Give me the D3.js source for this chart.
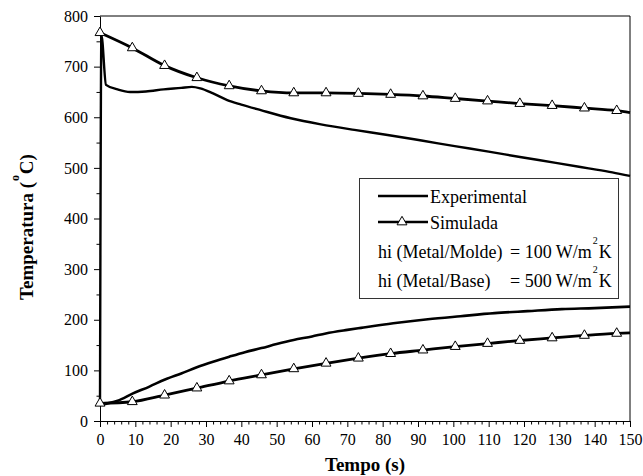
<!DOCTYPE html>
<html>
<head>
<meta charset="utf-8">
<script src="https://cdn.jsdelivr.net/npm/d3@7"></script>
<style>
html,body{margin:0;padding:0;background:#fff;}
svg, svg text{font-family:"Liberation Serif","Times New Roman",Times,serif !important;}
</style>
</head>
<body>
<svg id="chart" width="643" height="476"></svg>
<script>
// ---- data ----
const xTicks = [0,10,20,30,40,50,60,70,80,90,100,110,120,130,140,150];
const yTicks = [0,100,200,300,400,500,600,700,800];

const expTopT = [0, 0.4, 1.7, 5, 8.5, 13, 18, 23, 26, 28.4, 32, 36, 40, 45.5, 54, 62.5, 72, 81.4, 91, 100.4, 110, 119.3, 129, 138.3, 145, 150];
const expTopV = [32, 762, 664, 655, 650, 651, 655, 658, 660, 657, 647, 634, 625, 614, 598, 586, 575, 565, 554, 543, 532, 521, 510, 499, 491, 484];

const expBotT = [0, 5, 9.2, 14, 18.4, 23, 27.4, 32, 36.6, 41, 45.7, 50, 54.8, 60, 63.9, 70, 73.9, 83, 92.8, 102, 111.7, 121, 130.7, 140, 150];
const expBotV = [32, 40, 54, 68, 82, 94, 106, 117, 127, 136, 144, 152, 160, 167, 173, 180, 184, 193, 201, 207, 213, 217, 221, 223, 226];

const simT    = [0, 9.14, 18.28, 27.42, 36.56, 45.7, 54.84, 63.98, 73.12, 82.26, 91.4, 100.54, 109.68, 118.82, 127.96, 137.1, 146.24, 150];
const simTopV = [767, 737, 702, 678, 662, 652, 648, 648, 647, 645, 642, 637, 632, 627, 623, 618, 613, 609];
const simBotV = [35, 38, 51, 65, 79, 91, 103, 114, 124, 133, 140, 147, 153, 159, 164, 169, 173, 174];

const legendLabels = ["Experimental", "Simulada"];
const paramLines = [
  {pre: "hi (Metal/Molde)", val: "= 100 W/m", unit: "K"},
  {pre: "hi (Metal/Base)",  val: "= 500 W/m", unit: "K"}
];

// ---- layout ----
const FONT = "Liberation Serif";
const svg = d3.select("#chart").attr("font-family", FONT);
const L = 100, R = 630, T = 16, B = 421;
const x = d3.scaleLinear().domain([0,150]).range([L,R]);
const y = d3.scaleLinear().domain([0,800]).range([B,T]);

// frame
svg.append("path")
  .attr("d", `M${L},${T}H${R}V${B}`)
  .attr("fill","none").attr("stroke","#000").attr("stroke-width",1);

// minor ticks
const xMinor = d3.range(0,151,2).filter(v => v % 10 !== 0);
const yMinor = d3.range(50,800,100);
svg.append("g").attr("transform",`translate(0,${B})`)
  .call(d3.axisBottom(x).tickValues(xMinor).tickSize(3.5).tickSizeOuter(0).tickFormat(""))
  .call(g => g.select(".domain").remove());
svg.append("g").attr("transform",`translate(${L},0)`)
  .call(d3.axisLeft(y).tickValues(yMinor).tickSize(3.5).tickSizeOuter(0).tickFormat(""))
  .call(g => g.select(".domain").remove());

// major axes
const xa = svg.append("g").attr("transform",`translate(0,${B})`)
  .call(d3.axisBottom(x).tickValues(xTicks).tickSize(6).tickPadding(7).tickSizeOuter(0));
const ya = svg.append("g").attr("transform",`translate(${L},0)`)
  .call(d3.axisLeft(y).tickValues(yTicks).tickSize(6).tickPadding(6).tickSizeOuter(0));
[xa, ya].forEach(g => {
  g.attr("font-family", FONT).attr("font-size", 16);
  g.selectAll("text").attr("font-family", FONT).attr("font-size",16).attr("fill","#000");
});
svg.selectAll(".tick line").attr("stroke","#000");
svg.selectAll(".domain").attr("stroke","#000");

// titles
svg.append("text").attr("x", (L+R)/2).attr("y", 471)
  .attr("text-anchor","middle").attr("font-weight","bold").attr("font-size",19)
  .attr("font-family", FONT)
  .text("Tempo (s)");

const yt = svg.append("text")
  .attr("transform","translate(33,227) rotate(-90)")
  .attr("text-anchor","middle").attr("font-weight","bold").attr("font-size",19)
  .attr("font-family", FONT);
yt.append("tspan").text("Temperatura (");
yt.append("tspan").attr("font-size",12).attr("dy",-14).attr("dx",1).text("o");
yt.append("tspan").attr("dy",14).attr("dx",-4).text(" C)");

// lines
const line = d3.line().x(d => x(d[0])).y(d => y(d[1])).curve(d3.curveMonotoneX);
const drawLine = (ts, vs, w) => svg.append("path")
  .datum(ts.map((t,i) => [t, vs[i]]))
  .attr("d", line).attr("fill","none").attr("stroke","#000")
  .attr("stroke-width",w).attr("stroke-linejoin","round");

drawLine(expBotT, expBotV, 2.6);
drawLine(expTopT, expTopV, 2.4);
drawLine(simT, simBotV, 2.8);
drawLine(simT, simTopV, 2.8);

// triangle markers
const tri = d3.symbol().type(d3.symbolTriangle).size(42);
[simTopV, simBotV].forEach(vs => {
  svg.append("g").selectAll("path")
    .data(simT.slice(0, simT.length-1).map((t,i) => [t, vs[i]]))
    .join("path")
    .attr("d", tri)
    .attr("transform", d => `translate(${x(d[0])},${y(d[1])})`)
    .attr("fill","#fff").attr("stroke","#000").attr("stroke-width",1);
});

// legend
const lg = svg.append("g").attr("font-family", FONT);
lg.append("rect").attr("x",359.5).attr("y",178.5).attr("width",259).attr("height",120)
  .attr("fill","#fff").attr("stroke","#333").attr("stroke-width",1);
const rowsY = [196, 222];
legendLabels.forEach((lab,i) => {
  lg.append("line").attr("x1",378).attr("x2",428).attr("y1",rowsY[i]).attr("y2",rowsY[i])
    .attr("stroke","#000").attr("stroke-width",2.6);
  if (i === 1) {
    lg.append("path").attr("d", tri).attr("transform",`translate(402,${rowsY[i]})`)
      .attr("fill","#fff").attr("stroke","#000").attr("stroke-width",1);
  }
  lg.append("text").attr("x",430).attr("y",rowsY[i]+7).attr("font-size",18).text(lab);
});
const pY = [258, 287];
paramLines.forEach((p,i) => {
  lg.append("text").attr("x",378).attr("y",pY[i]).attr("font-size",18).text(p.pre);
  const t = lg.append("text").attr("x",510).attr("y",pY[i]).attr("font-size",18);
  t.append("tspan").text(p.val);
  t.append("tspan").attr("font-size",10).attr("dy",-14).attr("dx",1).text("2");
  t.append("tspan").attr("dy",14).attr("dx",1).text(p.unit);
});
</script>
</body>
</html>
